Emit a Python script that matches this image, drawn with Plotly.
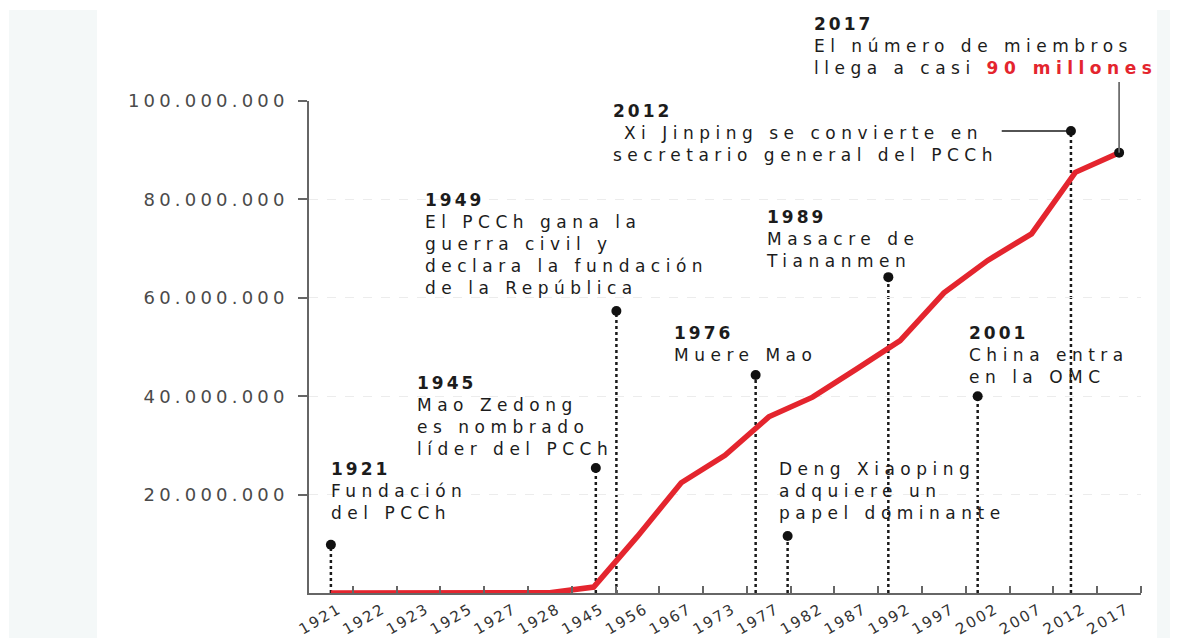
import numpy as np
import plotly.graph_objects as go

# ---------------- data ----------------
years = [1921, 1922, 1923, 1925, 1927, 1928, 1945, 1956, 1967, 1973,
         1977, 1982, 1987, 1992, 1997, 2002, 2007, 2012, 2017]
members = [50, 200, 400, 1000, 58000, 40000, 1210000, 11500000, 22400000, 28000000,
           35800000, 39800000, 45500000, 51300000, 61000000, 67600000, 73000000, 85500000, 89500000]
y_ticks = [20000000, 40000000, 60000000, 80000000, 100000000]

event_titles = ["1921", "1945", "1949", "1976", None, "1989", "2001", "2012", "2017"]
# where each event pin sits along the year axis (in category steps)
event_pos = [0, 6.05, 6.52, 9.7, 10.43, 12.73, 14.77, 16.9, 18]
event_lines = [
    ["Fundación", "del PCCh"],
    ["Mao Zedong", "es nombrado", "líder del PCCh"],
    ["El PCCh gana la", "guerra civil y", "declara la fundación", "de la República"],
    ["Muere Mao"],
    ["Deng Xiaoping", "adquiere un", "papel dominante"],
    ["Masacre de", "Tiananmen"],
    ["China entra", "en la OMC"],
    [" Xi Jinping se convierte en", "secretario general del PCCh"],
    ["El número de miembros", "llega a casi <b><span style='color:#e4252e'>90 millones</span></b>"],
]

# ---------------- layout / style ----------------
W, H = 1178, 638
OFF = 8                      # page body margin: figure pixel = reference pixel - OFF
ML, MT = 309 - OFF, 101 - OFF
MB = H - (593 - OFF)
MR = W - (1141 - OFF)
RED = "#e4252e"
INK = "#1c1c1c"
FONT = "DejaVu Sans"
TEXT_SIZE = 17
SPACING = 5.5                # letter spacing (px) to match the wide lettering

# heights (in members) of the event pins, and text block anchors (reference pixels:
# left edge, centre of first line)
pin_height = [9.8e6, 25.4e6, 57.3e6, 44.3e6, 11.6e6, 64.2e6, 40.0e6, 93.9e6, None]
text_anchor_px = [(329, 469), (415, 383), (423, 200), (672, 333), (777, 469),
                  (764, 217), (967, 333), (611, 111), (812, 24)]


def paper_x(px):
    return (px - OFF - ML) / (W - ML - MR)


def paper_y(py):
    return (H - MB - (py - OFF)) / (H - MT - MB)


def spaced(t, sp=SPACING):
    return f"<span style='letter-spacing:{sp}px'>{t}</span>"


idx = np.arange(len(years))
pins = [h if h is not None else members[-1] for h in pin_height]

fig = go.Figure()

fig.add_trace(go.Scatter(
    x=idx, y=members, mode="lines",
    line=dict(color=RED, width=5.5),
    hoverinfo="skip", showlegend=False,
))
fig.add_trace(go.Scatter(
    x=event_pos, y=pins, mode="markers",
    marker=dict(color="#111111", size=10),
    hoverinfo="skip", showlegend=False,
))

shapes = []
# pale side strips
shapes.append(dict(type="rect", xref="paper", yref="paper",
                   x0=paper_x(9), x1=paper_x(97), y0=paper_y(H + OFF), y1=paper_y(10),
                   fillcolor="#f4f8f8", line=dict(width=0), layer="below"))
shapes.append(dict(type="rect", xref="paper", yref="paper",
                   x0=paper_x(1157), x1=paper_x(W + OFF), y0=paper_y(H + OFF), y1=paper_y(10),
                   fillcolor="#f4f8f8", line=dict(width=0), layer="below"))

for k, (ex, ph) in enumerate(zip(event_pos, pins)):
    if k == len(pins) - 1:
        # solid connector from the last point up to its label
        shapes.append(dict(type="line", xref="x", yref="paper",
                           x0=ex, x1=ex, y0=ph / 100e6, y1=paper_y(82),
                           line=dict(color="#6e6e6e", width=1.8)))
    else:
        shapes.append(dict(type="line", xref="x", yref="y",
                           x0=ex, x1=ex, y0=0, y1=ph,
                           line=dict(color="#1a1a1a", width=2.5, dash="dot"),
                           layer="below"))
    if event_titles[k] == "2012":
        shapes.append(dict(type="line", xref="x", yref="y",
                           x0=(1002 - 331) / 43.8, x1=ex, y0=ph, y1=ph,
                           line=dict(color="#1a1a1a", width=1.5)))

annotations = []
for (px, py), title, lines in zip(text_anchor_px, event_titles, event_lines):
    parts = []
    if title:
        parts.append("<b>" + spaced(title, 3) + "</b>")
    parts += [spaced(t) for t in lines]
    annotations.append(dict(
        xref="paper", yref="paper",
        x=paper_x(px), y=paper_y(py - 12),
        xanchor="left", yanchor="top", align="left",
        text="<br>".join(parts), showarrow=False,
        font=dict(family=FONT, size=TEXT_SIZE, color=INK),
    ))

fig.update_layout(
    width=W, height=H,
    margin=dict(l=ML, r=MR, t=MT, b=MB, autoexpand=False),
    paper_bgcolor="white", plot_bgcolor="white",
    font=dict(family=FONT, color="#444444"),
    shapes=shapes,
    annotations=annotations,
    showlegend=False,
)

fig.update_xaxes(
    range=[-0.5, 18.5], automargin=False,
    tickmode="array", tickvals=idx, ticktext=[spaced(str(y), 2) for y in years],
    ticks="", tickangle=-30, ticklabelshift=8, ticklabelstandoff=0,
    tickfont=dict(family=FONT, size=15, color="#333333"),
    showline=True, linecolor="#666666", linewidth=1.6,
    showgrid=False, zeroline=False,
    minor=dict(tickmode="array", tickvals=list(idx + 0.5),
               ticks="inside", ticklen=7, tickwidth=1.6, tickcolor="#666666"),
)
fig.update_yaxes(
    range=[0, 100e6], automargin=False,
    tickmode="array", tickvals=y_ticks,
    ticktext=[spaced(f"{v:,}".replace(",", "."), 4.2) for v in y_ticks],
    ticks="outside", ticklen=9, tickwidth=1.5, tickcolor="#666666",
    ticklabelstandoff=6,
    tickfont=dict(family=FONT, size=18, color="#4a4a4a"),
    showline=True, linecolor="#666666", linewidth=1.6,
    showgrid=True, gridcolor="#ececec", griddash="dash", gridwidth=1,
    zeroline=False,
)

fig.write_html("out.html")
